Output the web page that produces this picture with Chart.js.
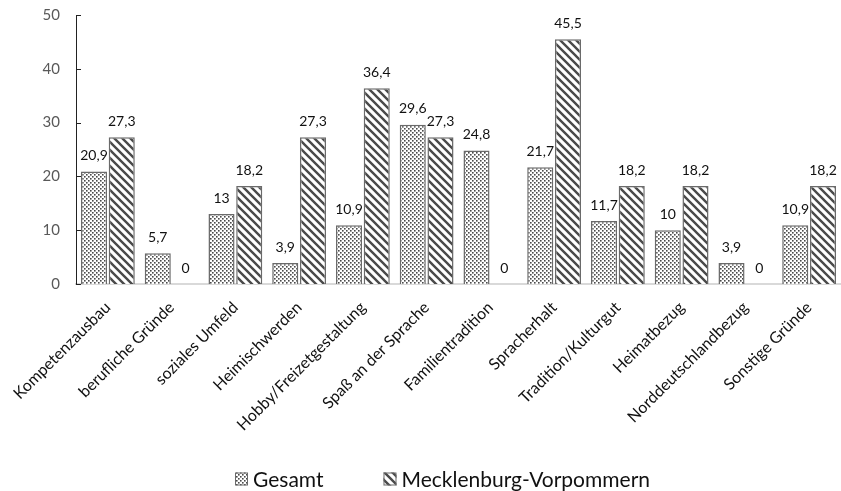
<!DOCTYPE html>
<html>
<head>
<meta charset="utf-8">
<script src="https://cdn.jsdelivr.net/npm/chart.js@4/dist/chart.umd.min.js"></script>
<style>
  html, body { margin: 0; padding: 0; background: #fff; }
  #wrap { width: 841px; height: 491px; }
</style>
</head>
<body>
<div id="wrap"><canvas id="chart"></canvas></div>
<script>
// Data
const categories = ['Kompetenzausbau', 'berufliche Gründe', 'soziales Umfeld', 'Heimischwerden',
  'Hobby/Freizetgestaltung', 'Spaß an der Sprache', 'Familientradition', 'Spracherhalt',
  'Tradition/Kulturgut', 'Heimatbezug', 'Norddeutschlandbezug', 'Sonstige Gründe'];
const gesamt = [20.9, 5.7, 13, 3.9, 10.9, 29.6, 24.8, 21.7, 11.7, 10, 3.9, 10.9];
const mv = [27.3, 0, 18.2, 27.3, 36.4, 27.3, 0, 45.5, 18.2, 18.2, 0, 18.2];
const yTicks = [0, 10, 20, 30, 40, 50];

const FONT = 'Lato, "Open Sans", sans-serif';

// Fill patterns
function dotPattern() {
  const c = document.createElement('canvas');
  c.width = 4; c.height = 4;
  const g = c.getContext('2d');
  g.fillStyle = '#ffffff';
  g.fillRect(0, 0, 4, 4);
  g.fillStyle = '#4a4a4a';
  g.fillRect(0, 0, 1.6, 1.6);
  g.fillRect(2, 2, 1.6, 1.6);
  return g.createPattern(c, 'repeat');
}

function stripePattern() {
  const s = 8;
  const c = document.createElement('canvas');
  c.width = s; c.height = s;
  const g = c.getContext('2d');
  g.fillStyle = '#ffffff';
  g.fillRect(0, 0, s, s);
  g.strokeStyle = '#4a4a4a';
  g.lineWidth = 2.4;
  g.beginPath();
  g.moveTo(-2, -2); g.lineTo(s + 2, s + 2);
  g.moveTo(-2 - s, -2); g.lineTo(2, s + 2);
  g.moveTo(s - 2, -2); g.lineTo(2 * s + 2, s + 2);
  g.stroke();
  return g.createPattern(c, 'repeat');
}

const fmt = v => String(v).replace('.', ',');

// Value labels above bars
const valueLabels = {
  id: 'valueLabels',
  afterDatasetsDraw(chart) {
    const ctx = chart.ctx;
    ctx.save();
    ctx.font = '14px ' + FONT;
    ctx.fillStyle = '#111';
    ctx.textAlign = 'center';
    ctx.textBaseline = 'bottom';
    chart.data.datasets.forEach((ds, i) => {
      chart.getDatasetMeta(i).data.forEach((bar, j) => {
        ctx.fillText(fmt(ds.data[j]), bar.x, bar.y - 9);
      });
    });
    ctx.restore();
  }
};

// Short inward tick marks on the y axis
const yTickMarks = {
  id: 'yTickMarks',
  afterDraw(chart) {
    const ctx = chart.ctx;
    const y = chart.scales.y;
    ctx.save();
    ctx.strokeStyle = '#222';
    ctx.lineWidth = 1;
    yTicks.forEach(t => {
      const py = Math.round(y.getPixelForValue(t)) + 0.5;
      ctx.beginPath();
      ctx.moveTo(y.right, py);
      ctx.lineTo(y.right + 5, py);
      ctx.stroke();
    });
    ctx.restore();
  }
};

// Legend under the axis labels
const bottomLegend = {
  id: 'bottomLegend',
  afterDraw(chart) {
    const ctx = chart.ctx;
    const box = 13, gapText = 5, gapItem = 60;
    const cy = 479;
    let x = 235;
    ctx.save();
    ctx.font = '21px ' + FONT;
    ctx.textBaseline = 'middle';
    chart.data.datasets.forEach(ds => {
      ctx.fillStyle = ds.backgroundColor;
      ctx.fillRect(x, cy - box / 2, box, box);
      ctx.strokeStyle = '#6a6a6a';
      ctx.lineWidth = 1;
      ctx.strokeRect(x + 0.5, cy - box / 2 + 0.5, box - 1, box - 1);
      ctx.fillStyle = '#111';
      ctx.fillText(ds.label, x + box + gapText, cy + 1);
      x += box + gapText + ctx.measureText(ds.label).width + gapItem;
    });
    ctx.restore();
  }
};

const ctx = document.getElementById('chart').getContext('2d');
new Chart(ctx, {
  type: 'bar',
  data: {
    labels: categories,
    datasets: [{
      label: 'Gesamt',
      data: gesamt,
      backgroundColor: dotPattern(),
      borderColor: '#6a6a6a',
      borderWidth: 1.5
    }, {
      label: 'Mecklenburg-Vorpommern',
      data: mv,
      backgroundColor: stripePattern(),
      borderColor: '#6a6a6a',
      borderWidth: 1.5
    }]
  },
  options: {
    responsive: true,
    maintainAspectRatio: false,
    animation: false,
    categoryPercentage: 0.87,
    barPercentage: 0.94,
    layout: { padding: { left: 28, top: 15, right: 0, bottom: 0 } },
    plugins: {
      tooltip: { enabled: false },
      legend: { display: false }
    },
    scales: {
      x: {
        grid: { display: false, drawTicks: false },
        border: { color: '#d9d9d9', width: 2 },
        afterFit(axis) {
          axis.height = 207;
          axis.paddingLeft = 0;
          axis.paddingRight = 0;
        },
        ticks: {
          minRotation: 45,
          maxRotation: 45,
          padding: 14,
          color: '#111',
          font: { family: FONT, size: 16 }
        }
      },
      y: {
        min: 0,
        max: 50,
        afterBuildTicks(axis) { axis.ticks = yTicks.map(v => ({ value: v })); },
        afterFit(axis) {
          axis.width = 48;
          axis.paddingTop = 0;
          axis.paddingBottom = 0;
        },
        grid: { display: false, drawTicks: false },
        border: { color: '#222', width: 1 },
        ticks: {
          padding: 16,
          color: '#595959',
          font: { family: FONT, size: 15 }
        }
      }
    }
  },
  plugins: [valueLabels, yTickMarks, bottomLegend]
});
</script>
</body>
</html>
